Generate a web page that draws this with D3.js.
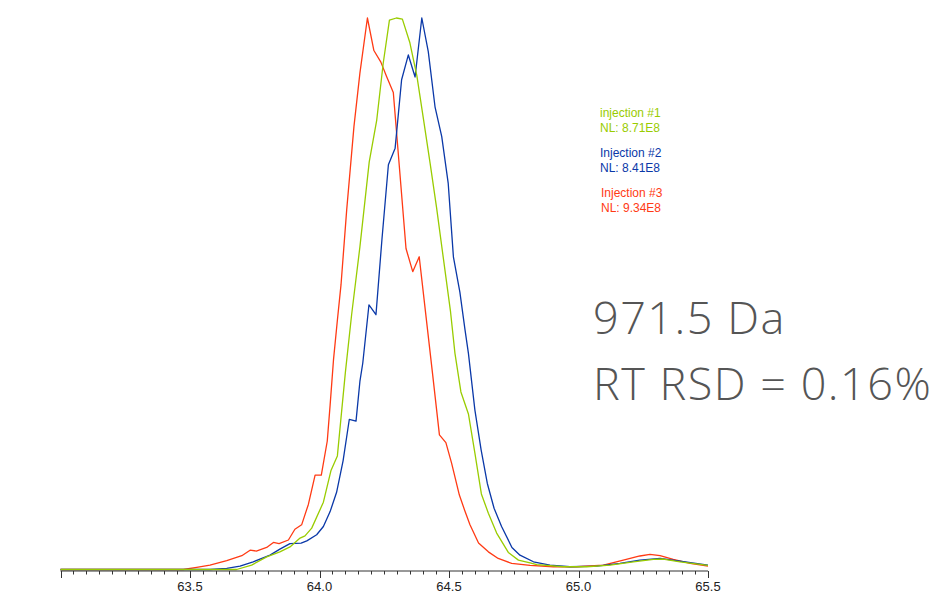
<!DOCTYPE html>
<html>
<head>
<meta charset="utf-8">
<script src="https://cdn.jsdelivr.net/npm/d3@7"></script>
<style>
  body { margin: 0; background: #fff; }
  svg { display: block; }
</style>
</head>
<body>
<div id="chart"></div>
<script>
// retention time (min) vs relative abundance (%)
const inj1 = [ // injection #1, green
  [63.0, 0], [63.680, 0], [63.738, 0.8], [63.796, 2.3], [63.847, 3.2], [63.886, 4.1],
  [63.925, 5.7], [63.944, 6.1], [63.970, 7.5], [64.015, 12.2], [64.044, 17.9],
  [64.069, 20.6], [64.083, 27.5], [64.100, 35.8], [64.124, 46.2], [64.156, 58.5],
  [64.192, 73.9], [64.221, 81.5], [64.246, 91.8], [64.270, 99.6], [64.297, 100],
  [64.320, 99.8], [64.349, 95.5], [64.376, 89.5], [64.402, 81.5], [64.427, 73.7],
  [64.452, 65.6], [64.478, 56.5], [64.506, 46.7], [64.523, 39.2], [64.546, 32.2],
  [64.575, 28.2], [64.600, 21.1], [64.625, 13.7], [64.652, 10.2], [64.684, 6.6],
  [64.729, 3.1], [64.768, 1.7], [64.813, 1.2], [64.839, 0.9], [64.941, 0.5],
  [65.032, 0.5], [65.122, 0.8], [65.212, 1.4], [65.289, 1.85], [65.327, 1.9],
  [65.392, 1.4], [65.5, 0.76]
];
const inj2 = [ // injection #2, blue
  [63.0, 0], [63.577, 0], [63.642, 0.2], [63.693, 0.6], [63.744, 1.4], [63.809, 2.6],
  [63.847, 3.7], [63.886, 4.7], [63.929, 4.8], [63.951, 5.2], [63.989, 6.3],
  [64.015, 7.8], [64.041, 10.5], [64.066, 14.0], [64.091, 19.7], [64.115, 27.2],
  [64.141, 26.9], [64.156, 34.1], [64.167, 37.4], [64.191, 48.0], [64.218, 46.2],
  [64.241, 59.8], [64.266, 73.4], [64.292, 76.4], [64.317, 88.8], [64.343, 93.3],
  [64.369, 89.3], [64.395, 100], [64.420, 93.9], [64.446, 83.9], [64.472, 78.5],
  [64.497, 70.0], [64.517, 56.7], [64.542, 50.3], [64.562, 43.4], [64.575, 39.2],
  [64.600, 28.9], [64.624, 21.7], [64.648, 15.6], [64.674, 11.1], [64.703, 7.8],
  [64.743, 4.0], [64.774, 2.6], [64.826, 1.4], [64.890, 0.8], [64.967, 0.5],
  [65.070, 0.6], [65.160, 1.1], [65.237, 1.7], [65.315, 2.0], [65.392, 1.5], [65.5, 0.8]
];
const inj3 = [ // injection #3, red
  [63.0, 0], [63.474, 0], [63.526, 0.4], [63.577, 0.8], [63.642, 1.6], [63.700, 2.5],
  [63.732, 3.5], [63.756, 3.35], [63.796, 4.0], [63.822, 4.9], [63.844, 4.7],
  [63.880, 5.35], [63.905, 7.3], [63.931, 8.1], [63.957, 11.8], [63.983, 17.1],
  [64.007, 17.1], [64.030, 23.3], [64.041, 29.8], [64.054, 38.0], [64.069, 45.2],
  [64.083, 51.6], [64.105, 65.2], [64.133, 80.3], [64.156, 90.0], [64.185, 100],
  [64.210, 94.1], [64.237, 92.0], [64.259, 89.4], [64.285, 86.5], [64.311, 71.5],
  [64.334, 58.2], [64.360, 54.0], [64.385, 56.7], [64.411, 46.0], [64.437, 35.3],
  [64.463, 24.4], [64.488, 23.0], [64.510, 19.3], [64.540, 13.5], [64.560, 10.8],
  [64.581, 8.1], [64.614, 4.8], [64.652, 3.2], [64.690, 2.0], [64.742, 1.1],
  [64.813, 0.73], [64.903, 0.5], [64.993, 0.5], [65.096, 0.8], [65.173, 1.7],
  [65.237, 2.45], [65.276, 2.76], [65.315, 2.5], [65.366, 1.85], [65.431, 1.1], [65.5, 0.63]
];

const tickValues = [63.5, 64.0, 64.5, 65.0, 65.5];
const legendNames = ["injection #1", "Injection #2", "Injection #3"];
const legendNL = ["NL: 8.71E8", "NL: 8.41E8", "NL: 9.34E8"];
const annotation = ["971.5 Da", "RT RSD = 0.16%"];

const colors = ["#99cc00", "#0a38a8", "#ff3a14"];

const W = 936, H = 598;
const svg = d3.select("#chart").append("svg")
  .attr("width", W).attr("height", H);

const x = d3.scaleLinear().domain([63.0, 65.5]).range([60.5, 708]);
const y = d3.scaleLinear().domain([0, 100]).range([569.5, 18]);

const line = d3.line().x(d => x(d[0])).y(d => y(d[1]));

// draw order: red, blue, green
[[inj3, colors[2]], [inj2, colors[1]], [inj1, colors[0]]].forEach(([data, c]) => {
  svg.append("path")
    .datum(data)
    .attr("d", line)
    .attr("fill", "none")
    .attr("stroke", c)
    .attr("stroke-width", 1.3)
    .attr("stroke-linejoin", "round");
});

// x axis: minor ticks every 0.05, labelled ticks every 0.5
const axisY = 571;
const ax = svg.append("g").attr("transform", `translate(0,${axisY})`);
ax.append("line")
  .attr("x1", x(63.0)).attr("x2", x(65.5))
  .attr("stroke", "#333").attr("stroke-width", 1);

const minor = d3.range(0, 51).map(i => 63.0 + i * 0.05);
ax.selectAll("line.minor").data(minor).join("line")
  .attr("class", "minor")
  .attr("x1", d => Math.round(x(d)) + 0.5).attr("x2", d => Math.round(x(d)) + 0.5)
  .attr("y1", 0)
  .attr("y2", (d, i) => (i % 10 === 0 ? 7 : 3.5))
  .attr("stroke", "#333").attr("stroke-width", 1);

ax.selectAll("text.tick").data(tickValues).join("text")
  .attr("class", "tick")
  .attr("x", d => x(d))
  .attr("y", 20)
  .attr("text-anchor", "middle")
  .attr("font-family", "Liberation Sans, Arial, sans-serif")
  .attr("font-size", 13)
  .attr("fill", "#222")
  .text(d => d.toFixed(1));

// legend
const lg = svg.append("g").attr("font-family", "Liberation Sans, Arial, sans-serif")
  .attr("font-size", 12);
legendNames.forEach((name, i) => {
  const top = 117 + i * 40;
  lg.append("text").attr("x", 600 + (i === 2 ? 1 : 0)).attr("y", top)
    .attr("fill", colors[i]).text(name);
  lg.append("text").attr("x", 600 + (i === 2 ? 1 : 0)).attr("y", top + 15)
    .attr("fill", colors[i]).text(legendNL[i]);
});

// annotation
annotation.forEach((t, i) => {
  svg.append("text")
    .attr("x", 593).attr("y", 334 + i * 66)
    .attr("font-family", "'Open Sans', Lato, sans-serif")
    .attr("font-weight", 300)
    .attr("font-size", 45)
    .attr("letter-spacing", 1.5)
    .attr("fill", "#555")
    .text(t);
});
</script>
</body>
</html>
